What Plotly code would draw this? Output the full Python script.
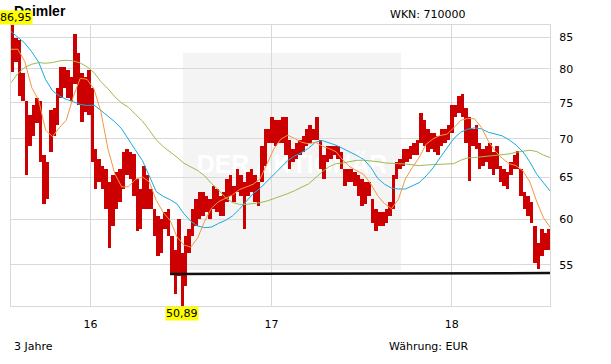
import math
import pandas as pd
import plotly.graph_objects as go

# ---------------- data ----------------
title = "Daimler"
wkn = "WKN: 710000"
period = "3 Jahre"
currency = "Währung: EUR"

# weekly high / low (EUR), first week centred on 2015-07-27
week_start = "2015-07-27 12:00"
high = [86.95, 84.9, 84.6, 79.3, 75.2, 73.2, 74.7, 75.7, 75.2, 67.8,
        66.9, 73.9, 74.2, 77.2, 80.3, 80.3, 79.8, 78.7, 85.5, 82.4,
        79.3, 78.7, 79.8, 77.2, 68.6, 67.3, 66.5, 66.1, 64.4, 65.3,
        65.7, 66.1, 68.2, 68.6, 68.2, 68.0, 64.8, 63.6, 66.5, 65.3,
        63.6, 61.2, 60.4, 60.0, 60.8, 61.2, 58.1, 56.6, 60.0, 56.3,
        58.1, 58.9, 61.2, 62.4, 63.2, 63.2, 62.8, 62.4, 64.0, 63.6,
        62.8, 63.2, 64.8, 65.3, 64.0, 66.1, 65.3, 64.4, 65.7, 66.1,
        65.3, 64.4, 69.1, 71.3, 71.3, 73.0, 72.5, 72.5, 73.0, 73.0,
        69.9, 68.6, 69.5, 69.9, 70.4, 71.3, 71.8, 71.3, 73.0, 69.9,
        67.8, 69.1, 69.1, 69.1, 69.1, 68.2, 66.1, 66.1, 66.1, 65.7,
        65.3, 64.8, 64.4, 64.4, 62.4, 61.2, 60.8, 60.8, 61.2, 62.0,
        65.3, 66.9, 67.3, 68.6, 68.6, 69.1, 69.5, 69.9, 73.5, 72.5,
        71.3, 70.8, 70.8, 70.4, 71.3, 71.3, 71.8, 74.7, 74.7, 75.9,
        76.2, 74.2, 73.0, 71.3, 71.8, 69.5, 68.6, 69.1, 69.5, 68.2,
        69.1, 66.5, 66.1, 65.7, 66.9, 67.8, 68.4, 66.1, 63.2, 62.8,
        62.0, 59.2, 57.4, 58.9, 58.5, 58.9]
low = [79.5, 81.1, 76.0, 75.2, 65.3, 69.1, 70.4, 72.2, 66.9, 61.8,
       62.4, 68.2, 70.4, 71.8, 75.7, 77.2, 75.7, 75.2, 77.7, 74.7,
       72.3, 73.7, 73.2, 66.9, 63.6, 64.4, 63.6, 61.2, 56.8, 59.2,
       61.2, 62.0, 63.6, 65.3, 64.8, 62.8, 58.7, 58.9, 61.2, 61.2,
       61.2, 58.1, 55.9, 56.3, 58.9, 58.1, 54.0, 52.0, 53.8, 50.89,
       52.8, 56.3, 58.1, 59.2, 60.0, 60.4, 60.8, 60.0, 61.2, 60.8,
       60.4, 60.4, 62.0, 62.8, 62.0, 63.2, 62.8, 58.9, 62.8, 63.2,
       62.0, 61.6, 64.4, 66.5, 69.5, 69.5, 69.1, 69.5, 69.5, 67.8,
       66.1, 66.9, 67.3, 67.8, 68.2, 69.1, 69.5, 69.9, 69.9, 66.1,
       64.8, 66.9, 67.3, 67.8, 67.3, 66.1, 64.0, 64.4, 64.4, 64.0,
       62.8, 61.6, 61.8, 62.8, 59.6, 58.7, 59.2, 59.2, 59.6, 60.4,
       61.2, 64.8, 66.1, 66.5, 66.9, 67.3, 67.8, 67.8, 69.5, 69.1,
       68.2, 68.6, 68.2, 67.8, 69.1, 69.5, 69.9, 70.8, 73.0, 73.5,
       73.0, 69.5, 64.6, 69.1, 68.6, 66.1, 66.5, 66.9, 66.1, 65.3,
       66.1, 64.4, 64.0, 63.6, 65.3, 66.1, 66.1, 62.8, 61.2, 60.4,
       59.6, 55.2, 54.6, 55.9, 56.6, 56.6]

# moving averages sampled every two weeks, last point at chart end
ma_start = "2015-07-24"
ma_end = "2018-07-18 18:00"
ma38 = [83.06, 83.06, 81.13, 77.18, 75.37, 71.16, 70.30, 71.52, 72.54, 75.86,
        78.57, 78.42, 76.98, 73.66, 68.70, 65.49, 63.84, 63.88, 64.78, 65.07,
        64.45, 62.23, 60.81, 59.89, 58.01, 57.13, 56.91, 57.94, 59.81, 61.32,
        62.07, 62.47, 62.87, 63.51, 63.84, 64.17, 64.82, 66.67, 68.66, 69.94,
        70.48, 70.03, 69.54, 69.32, 69.54, 69.01, 68.70, 68.27, 67.18, 66.33,
        65.87, 65.37, 64.21, 62.79, 61.83, 61.24, 62.35, 64.82, 66.25, 67.53,
        69.27, 69.98, 70.43, 70.61, 71.47, 72.50, 72.77, 72.72, 71.52, 69.67,
        68.35, 67.44, 66.75, 66.50, 65.83, 64.45, 62.07, 60.15, 59.13]
ma100 = [85.93, 84.90, 84.03, 82.65, 81.03, 78.37, 76.74, 75.96, 75.47, 75.13,
         74.75, 74.60, 74.65, 73.89, 73.05, 72.31, 71.34, 69.98, 68.48, 67.14,
         65.11, 63.27, 62.71, 62.31, 61.79, 60.66, 59.78, 59.25, 59.06, 59.13,
         59.55, 59.89, 60.39, 61.17, 62.11, 63.03, 63.67, 64.53, 65.40, 66.29,
         67.14, 67.74, 68.18, 68.74, 69.54, 69.76, 69.45, 69.14, 68.70, 68.27,
         67.79, 67.27, 66.29, 64.91, 64.17, 63.71, 63.59, 63.59, 64.00, 64.37,
         65.20, 66.20, 67.48, 68.70, 70.03, 70.88, 71.29, 71.47, 71.34, 70.88,
         70.66, 70.39, 69.85, 69.18, 68.27, 66.97, 65.40, 64.29, 63.35]
ma200 = [77.92, 79.29, 80.26, 80.72, 80.97, 80.87, 80.97, 81.23, 81.33, 81.23,
         80.92, 80.31, 79.44, 78.07, 77.04, 75.86, 74.94, 74.32, 73.33, 72.40,
         71.16, 69.85, 68.96, 68.31, 67.57, 66.80, 66.37, 65.87, 65.20, 64.25,
         63.47, 62.55, 61.99, 61.75, 61.75, 61.83, 61.95, 62.15, 62.43, 62.75,
         63.03, 63.39, 63.75, 64.21, 64.95, 65.74, 66.37, 66.75, 66.84, 66.97,
         67.18, 67.18, 67.14, 67.01, 66.84, 66.75, 66.75, 66.71, 66.63, 66.50,
         66.58, 66.63, 66.63, 66.67, 66.75, 67.18, 67.48, 67.53, 67.61, 67.70,
         67.79, 67.87, 68.00, 68.22, 68.39, 68.48, 68.31, 67.83, 67.53]

support_x = ["2016-06-10", "2018-07-18 18:00"]
support_y = [54.05, 54.15]

year_ticks = ["2016-01-01", "2017-01-01", "2018-01-01"]
year_labels = ["16", "17", "18"]
price_ticks = [55, 60, 65, 70, 75, 80, 85]

x_range = ["2015-07-24", "2018-07-18 18:00"]
y_range = [50.85, 87.0]

# ---------------- figure ----------------
W, H = 611, 364
L, R, T, B = 11, 61, 25, 58
PW, PH = W - L - R, H - T - B


def px(x):
    return (x - L) / PW


def py(y):
    return (T + PH - y) / PH


bar_dates = pd.date_range(week_start, periods=len(high), freq="7D")
ma_dates = list(pd.date_range(ma_start, periods=len(ma38) - 1, freq="14D")) + [pd.Timestamp(ma_end)]

RED = "#CC0000"
ORANGE = "#F7953F"
BLUE = "#19A9E3"
GREEN = "#9BBB4E"
GRID = "#D9D9D9"
FONT = "DejaVu Sans"

fig = go.Figure()
fig.add_trace(go.Bar(
    x=bar_dates, base=low, y=[h - l for h, l in zip(high, low)],
    width=7 * 86400000, marker=dict(color=RED, line=dict(width=0)),
    hoverinfo="skip"))
fig.add_trace(go.Scatter(x=ma_dates, y=ma200, mode="lines",
                         line=dict(color=GREEN, width=1), hoverinfo="skip"))
fig.add_trace(go.Scatter(x=ma_dates, y=ma100, mode="lines",
                         line=dict(color=BLUE, width=1), hoverinfo="skip"))
fig.add_trace(go.Scatter(x=ma_dates, y=ma38, mode="lines",
                         line=dict(color=ORANGE, width=1), hoverinfo="skip"))
fig.add_trace(go.Scatter(x=support_x, y=support_y, mode="lines",
                         line=dict(color="#111111", width=2.5), hoverinfo="skip"))

imax = high.index(max(high))
imin = low.index(min(low))


def de(v):
    return f"{v:.2f}".replace(".", ",")


annotations = [
    dict(text="<b>" + title + "</b>", xref="paper", yref="paper", x=px(11.5), y=py(11.5),
         xanchor="left", yanchor="middle", showarrow=False,
         font=dict(family="Liberation Sans", size=14, color="#000")),
    dict(text=wkn, xref="paper", yref="paper", x=px(468), y=py(14),
         xanchor="right", yanchor="middle", showarrow=False,
         font=dict(family=FONT, size=11, color="#000")),
    dict(text=period, xref="paper", yref="paper", x=px(11.5), y=py(346.5),
         xanchor="left", yanchor="middle", showarrow=False,
         font=dict(family=FONT, size=11, color="#000")),
    dict(text=currency, xref="paper", yref="paper", x=px(386.5), y=py(346.5),
         xanchor="left", yanchor="middle", showarrow=False,
         font=dict(family=FONT, size=11, color="#000")),
    dict(text=de(high[imax]), xref="x", yref="paper", x=bar_dates[imax], y=1,
         xanchor="center", yanchor="bottom", xshift=3.5, showarrow=False,
         bgcolor="#FFFF00", borderpad=0,
         font=dict(family=FONT, size=11, color="#000")),
    dict(text=de(low[imin]), xref="x", yref="paper", x=bar_dates[imin], y=0,
         xanchor="center", yanchor="top", showarrow=False,
         bgcolor="#FFFF00", borderpad=0,
         font=dict(family=FONT, size=11, color="#000")),
]

shapes = [
    dict(type="rect", xref="paper", yref="paper",
         x0=px(183), x1=px(401), y0=py(270), y1=py(53),
         fillcolor="#F4F4F4", line=dict(width=0), layer="below",
         label=dict(text="DER AKTIONÄR", textposition="middle center",
                    font=dict(family="Liberation Sans", size=25, color="#FFFFFF",
                              weight="bold"))),
]

fig.update_layout(
    width=W, height=H,
    margin=dict(l=L, r=R, t=T, b=B, pad=0),
    paper_bgcolor="white", plot_bgcolor="white",
    showlegend=False, hovermode=False,
    annotations=annotations, shapes=shapes,
    bargap=0,
    xaxis=dict(type="date", range=x_range, tickvals=year_ticks, ticktext=year_labels,
               showgrid=True, gridcolor=GRID, gridwidth=1, zeroline=False,
               showline=True, mirror=True, linecolor=GRID, linewidth=1,
               ticks="", ticklabelstandoff=8,
               tickfont=dict(family=FONT, size=11, color="#000")),
    yaxis=dict(type="log", range=[math.log10(y_range[0]), math.log10(y_range[1])],
               side="right", tickvals=price_ticks, ticktext=[str(v) for v in price_ticks],
               showgrid=True, gridcolor=GRID, gridwidth=1, zeroline=False,
               showline=True, mirror=True, linecolor=GRID, linewidth=1,
               ticks="", ticklabelstandoff=6,
               tickfont=dict(family=FONT, size=11, color="#000")),
)

fig.write_html("out.html")
